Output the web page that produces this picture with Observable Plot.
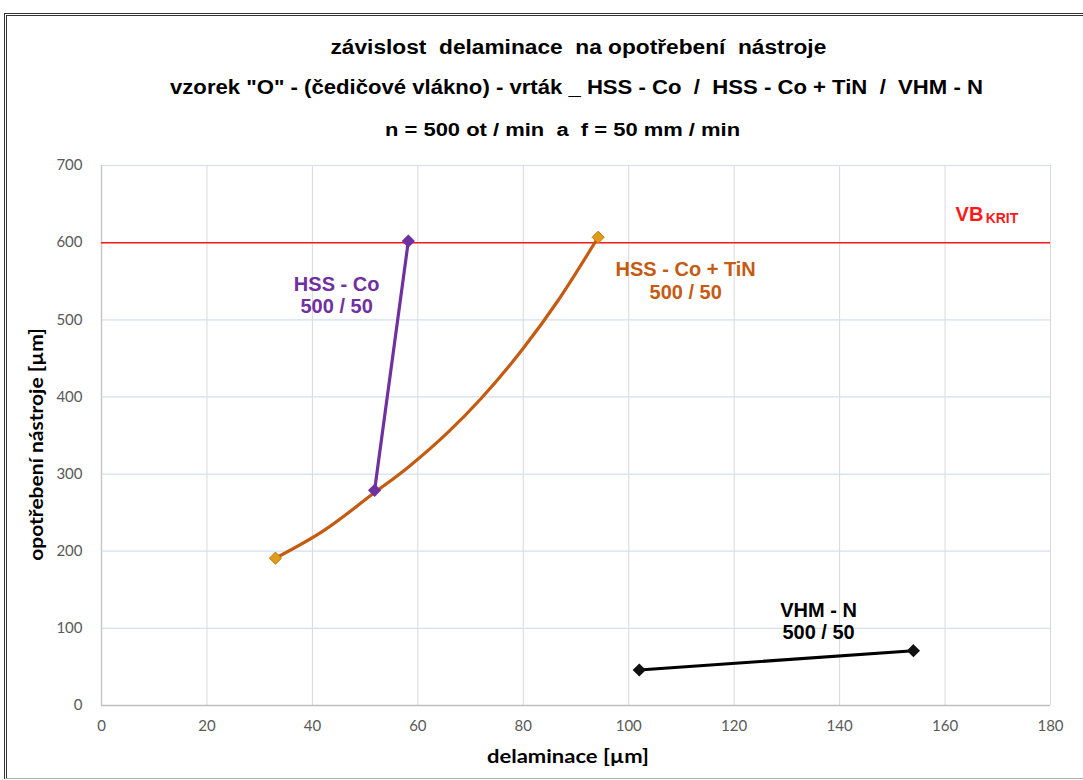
<!DOCTYPE html>
<html><head><meta charset="utf-8">
<script src="https://cdn.jsdelivr.net/npm/d3@7"></script>
<script src="https://cdn.jsdelivr.net/npm/@observablehq/plot@0.6"></script>
<style>
html,body{margin:0;padding:0;background:#fff;width:1083px;height:780px;overflow:hidden;position:relative}
#frame{position:absolute;left:4px;top:13px;width:1079px;height:766px;box-sizing:border-box;border-left:3px double #333;border-top:3px double #333;border-bottom:1px solid #b0b0b0;}
.t{position:absolute;white-space:pre;font-weight:bold;line-height:1;transform-origin:center center}
#chart{position:absolute;left:0;top:150px}
</style></head><body>
<div id="frame"></div>
<div id="chart"></div>
<script>
// ---- data ----
const xTicks = [0, 20, 40, 60, 80, 100, 120, 140, 160, 180];
const yTicks = [0, 100, 200, 300, 400, 500, 600, 700];
const vbKrit = 600;

const hssCoX = [51.8, 58.2];
const hssCoY = [279, 602];

const tinX = [33, 42, 51.8, 58, 65.7, 72, 80, 86.6, 94.2];
const tinY = [191, 226, 276, 308, 354, 398, 463, 525, 607];

const vhmX = [102, 154];
const vhmY = [46, 71];

const seriesNames = ["HSS - Co", "HSS - Co + TiN", "VHM - N"];
const seriesSub = ["500 / 50", "500 / 50", "500 / 50"];
const labelX = [44.6, 110.8, 136];
const labelY = [532, 551, 110];
const colors = ["#7030A0", "#C55A11", "#000000"];

const toPts = (xs, ys) => xs.map((x, i) => ({x, y: ys[i]}));
const hssCo = toPts(hssCoX, hssCoY);
const tin = toPts(tinX, tinY);
const vhm = toPts(vhmX, vhmY);
const ends = a => [a[0], a[a.length - 1]];
const labels = seriesNames.map((n, i) => ({x: labelX[i], y: labelY[i], text: n + "\n" + seriesSub[i], c: colors[i]}));

const chart = Plot.plot({
  width: 1083, height: 630,
  marginLeft: 101, marginRight: 33, marginTop: 15, marginBottom: 75,
  x: {domain: [0, 180]},
  y: {domain: [0, 700]},
  style: {fontFamily: "Lato, sans-serif", background: "transparent", overflow: "visible"},
  marks: [
    Plot.ruleX(xTicks, {stroke: "#d9d9d9", strokeWidth: 1}),
    Plot.ruleY(yTicks.filter(d => d > 0), {stroke: "#d3dff2", strokeWidth: 1.2}),
    Plot.ruleY([0], {stroke: "#bfbfbf", strokeWidth: 1.5}),
    Plot.ruleX([0], {stroke: "#c8c8c8", strokeWidth: 1.5}),
    Plot.axisX({ticks: xTicks, tickSize: 0, tickPadding: 15, label: null, fontSize: 15, fill: "#595959", tickFormat: d => d}),
    Plot.axisY({ticks: yTicks, tickSize: 0, tickPadding: 19, label: null, fontSize: 15, fill: "#595959", tickFormat: d => d}),
    Plot.ruleY([vbKrit], {stroke: "#ff1a1a", strokeWidth: 1.5}),
    Plot.line(tin, {x: "x", y: "y", curve: "monotone-x", stroke: colors[1], strokeWidth: 3.2}),
    Plot.line(hssCo, {x: "x", y: "y", stroke: colors[0], strokeWidth: 3.2}),
    Plot.line(vhm, {x: "x", y: "y", stroke: colors[2], strokeWidth: 3.2}),
    Plot.dot(ends(tin), {x: "x", y: "y", symbol: "diamond2", r: 5.5, fill: "#E09A1C", stroke: "#C8780F", strokeWidth: 1}),
    Plot.dot(ends(hssCo), {x: "x", y: "y", symbol: "diamond2", r: 5, fill: colors[0], stroke: colors[0]}),
    Plot.dot(ends(vhm), {x: "x", y: "y", symbol: "diamond2", r: 5, fill: "#111", stroke: "#111"}),
    Plot.text(labels, {x: "x", y: "y", text: "text", fill: "c", fontSize: 20, fontWeight: "bold", lineHeight: 1.12, fontFamily: "'Liberation Sans', Arial, sans-serif"}),
    Plot.text([{x: 162, y: vbKrit}], {x: "x", y: "y", text: () => "VB", dy: -28, textAnchor: "start", fill: "#ff1a1a", fontSize: 20, fontWeight: "bold", fontFamily: "'Liberation Sans', Arial, sans-serif"}),
    Plot.text([{x: 167.7, y: vbKrit}], {x: "x", y: "y", text: () => "KRIT", dy: -24, textAnchor: "start", fill: "#ff1a1a", fontSize: 14, fontWeight: "bold", fontFamily: "'Liberation Sans', Arial, sans-serif"})
  ]
});
document.getElementById("chart").appendChild(chart);

// ---- titles & axis titles (HTML overlay) ----
function place(text, cx, cy, w, size, family, rotate) {
  const el = document.createElement("div");
  el.className = "t";
  el.textContent = text;
  el.style.fontSize = size + "px";
  el.style.fontFamily = family;
  document.body.appendChild(el);
  const bw = el.offsetWidth, bh = el.offsetHeight;
  el.style.left = (cx - bw / 2) + "px";
  el.style.top = (cy - bh / 2) + "px";
  el.style.transform = (rotate ? "rotate(-90deg) " : "") + "scaleX(" + (w / bw) + ")";
}
const narrow = "'Liberation Sans Narrow', 'Liberation Sans', Arial, sans-serif";
place("závislost  delaminace  na opotřebení  nástroje", 578, 47, 496, 20, narrow);
place("vzorek \"O\" - (čedičové vlákno) - vrták _ HSS - Co  /  HSS - Co + TiN  /  VHM - N", 576, 87, 813, 20, narrow);
place("n = 500 ot / min  a  f = 50 mm / min", 562, 130, 355, 18, narrow);
place("delaminace [µm]", 568, 755, 162, 19, "Lato, sans-serif");
place("opotřebení nástroje [µm]", 35, 444, 232, 19, "Lato, sans-serif", true);
</script></body></html>
